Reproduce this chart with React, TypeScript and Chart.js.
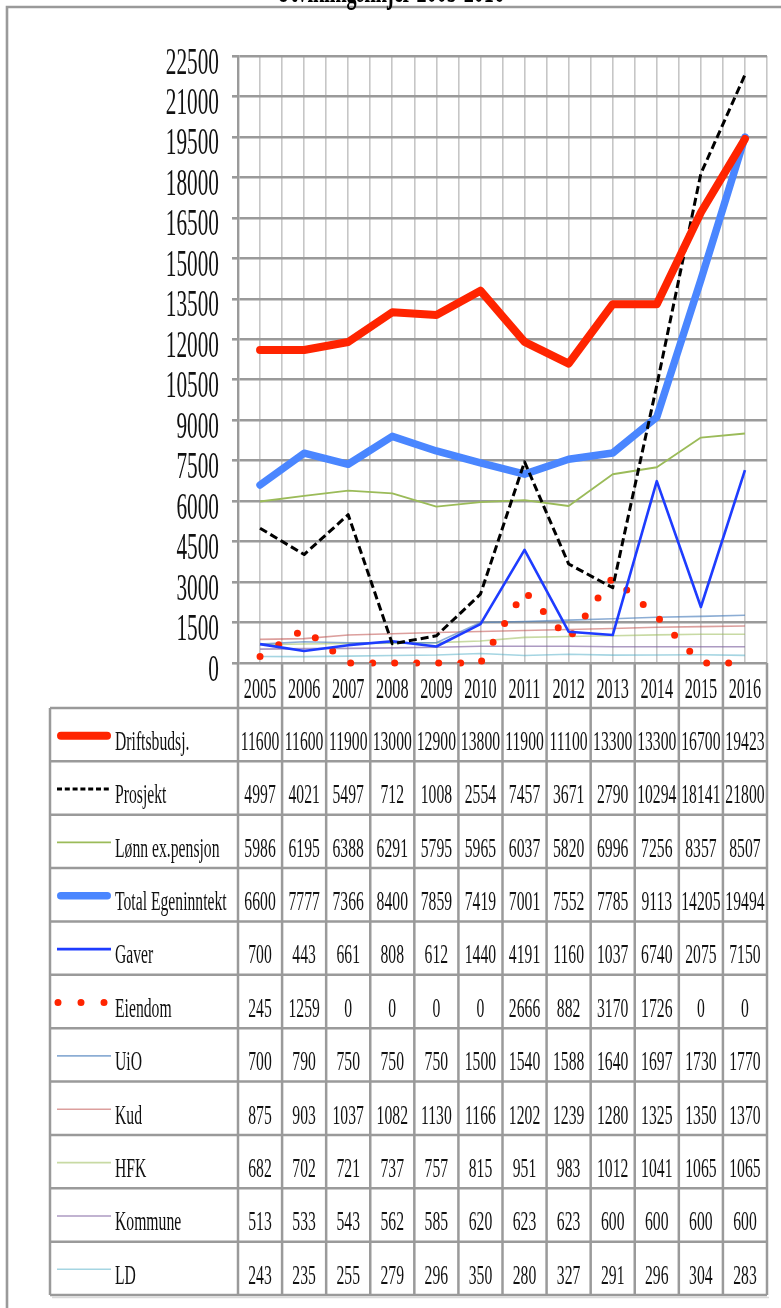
import React, { useEffect, useRef } from "react";
import { Chart, registerables } from "chart.js";

Chart.register(...registerables);

// ---------- data ----------
const chartTitle = "Utviklingslinjer 2005-2016";
const years = ["2005", "2006", "2007", "2008", "2009", "2010", "2011", "2012", "2013", "2014", "2015", "2016"];

const seriesNames = [
  "Driftsbudsj.",
  "Prosjekt",
  "Lønn ex.pensjon",
  "Total Egeninntekt",
  "Gaver",
  "Eiendom",
  "UiO",
  "Kud",
  "HFK",
  "Kommune",
  "LD",
];

const driftsbudsj = [11600, 11600, 11900, 13000, 12900, 13800, 11900, 11100, 13300, 13300, 16700, 19423];
const prosjekt = [4997, 4021, 5497, 712, 1008, 2554, 7457, 3671, 2790, 10294, 18141, 21800];
const lonnExPensjon = [5986, 6195, 6388, 6291, 5795, 5965, 6037, 5820, 6996, 7256, 8357, 8507];
const totalEgeninntekt = [6600, 7777, 7366, 8400, 7859, 7419, 7001, 7552, 7785, 9113, 14205, 19494];
const gaver = [700, 443, 661, 808, 612, 1440, 4191, 1160, 1037, 6740, 2075, 7150];
const eiendom = [245, 1259, 0, 0, 0, 0, 2666, 882, 3170, 1726, 0, 0];
const uio = [700, 790, 750, 750, 750, 1500, 1540, 1588, 1640, 1697, 1730, 1770];
const kud = [875, 903, 1037, 1082, 1130, 1166, 1202, 1239, 1280, 1325, 1350, 1370];
const hfk = [682, 702, 721, 737, 757, 815, 951, 983, 1012, 1041, 1065, 1065];
const kommune = [513, 533, 543, 562, 585, 620, 623, 623, 600, 600, 600, 600];
const ld = [243, 235, 255, 279, 296, 350, 280, 327, 291, 296, 304, 283];

const yMin = 0;
const yMax = 22500;
const yStep = 1500;

const seriesValues = [
  driftsbudsj,
  prosjekt,
  lonnExPensjon,
  totalEgeninntekt,
  gaver,
  eiendom,
  uio,
  kud,
  hfk,
  kommune,
  ld,
];

// ---------- styles ----------
type Style = {
  color: string;
  width: number;
  dash?: number[];
  legendDash?: number[];
  cap?: CanvasLineCap;
};

const seriesStyles: Style[] = [
  { color: "#ff2400", width: 8, cap: "round" },
  { color: "#000000", width: 3, dash: [8, 4], legendDash: [5, 2.8] },
  { color: "#9bbb59", width: 1.8 },
  { color: "#4a86ff", width: 7.5, cap: "round" },
  { color: "#1e3cff", width: 2.6 },
  { color: "#ff2400", width: 7, dash: [0, 22], legendDash: [0, 23], cap: "round" },
  { color: "rgba(79,129,189,0.65)", width: 1.6 },
  { color: "rgba(192,80,77,0.55)", width: 1.6 },
  { color: "rgba(155,187,89,0.55)", width: 1.6 },
  { color: "rgba(128,100,162,0.65)", width: 1.6 },
  { color: "rgba(75,172,198,0.5)", width: 1.6 },
];

const SX = 0.56; // horizontal condensation of all text, as in the reference
const FONT = '"Liberation Serif", "Times New Roman", serif';
const GRID_DARK = "#9a9a9a";
const GRID_LIGHT = "#c6c6c6";

function drawText(
  ctx: CanvasRenderingContext2D,
  text: string,
  x: number,
  y: number,
  font: string,
  align: "left" | "center" | "right",
  color = "#111111"
) {
  ctx.save();
  ctx.font = font;
  ctx.textBaseline = "alphabetic";
  ctx.textAlign = "left";
  const w = ctx.measureText(text).width * SX;
  const left = align === "center" ? x - w / 2 : align === "right" ? x - w : x;
  ctx.translate(left, y);
  ctx.scale(SX, 1);
  ctx.fillStyle = color;
  ctx.fillText(text, 0, 0);
  ctx.restore();
}

const excelPlugin = {
  id: "excelFrameAndTable",
  beforeDraw(chart: any) {
    const ctx: CanvasRenderingContext2D = chart.ctx;
    ctx.save();
    ctx.fillStyle = "#ffffff";
    ctx.fillRect(0, 0, chart.width, chart.height);
    // outer frame
    ctx.strokeStyle = GRID_DARK;
    ctx.lineWidth = 2.6;
    ctx.beginPath();
    ctx.moveTo(7, chart.height + 5);
    ctx.lineTo(7, 7);
    ctx.lineTo(chart.width + 5, 7);
    ctx.stroke();
    ctx.restore();
    drawText(ctx, chartTitle, 390, 2, `bold 36px ${FONT}`, "center", "#000000");
  },
  afterDraw(chart: any) {
    const ctx: CanvasRenderingContext2D = chart.ctx;
    const area = chart.chartArea;
    const xs = chart.scales.x;
    const ys = chart.scales.y;

    // y tick labels
    ys.ticks.forEach((t: any) => {
      const py = ys.getPixelForValue(t.value);
      drawText(ctx, String(t.value), area.left - 19, py + 17.5, `38px ${FONT}`, "right");
    });

    const colW = (area.right - area.left) / years.length;
    const yearTop = area.bottom;
    const tableTop = yearTop + 45;
    const tableBottom = 1295;
    const tableLeft = 50;
    const rowH = (tableBottom - tableTop) / seriesNames.length;

    ctx.save();
    ctx.strokeStyle = GRID_DARK;
    ctx.lineWidth = 2.5;
    ctx.beginPath();
    for (let k = 0; k <= years.length; k++) {
      const px = area.left + k * colW;
      ctx.moveTo(px, yearTop);
      ctx.lineTo(px, tableBottom);
    }
    for (let r = 0; r <= seriesNames.length; r++) {
      const py = tableTop + r * rowH;
      ctx.moveTo(tableLeft, py);
      ctx.lineTo(area.right, py);
    }
    ctx.moveTo(tableLeft, tableTop);
    ctx.lineTo(tableLeft, tableBottom);
    ctx.stroke();
    // faint shadow under the table
    ctx.strokeStyle = "rgba(150,150,150,0.35)";
    ctx.lineWidth = 1.5;
    ctx.beginPath();
    ctx.moveTo(tableLeft + 2, tableBottom + 2.5);
    ctx.lineTo(area.right + 2, tableBottom + 2.5);
    ctx.stroke();
    ctx.restore();

    // year labels
    years.forEach((yr, i) => {
      const cx = xs.getPixelForValue(i);
      drawText(ctx, yr, cx, yearTop + 35, `29px ${FONT}`, "center");
    });

    // rows
    seriesNames.forEach((name, r) => {
      const top = tableTop + r * rowH;
      const midY = top + rowH / 2 + 1;
      const st = seriesStyles[r];
      // legend sample
      ctx.save();
      ctx.strokeStyle = st.color;
      ctx.lineWidth = st.width;
      ctx.lineCap = st.cap || "butt";
      ctx.setLineDash(st.legendDash || st.dash || []);
      const inset = st.cap === "round" ? st.width / 2 : 0;
      const x0 = 57 + inset;
      const x1 = st.legendDash && st.cap === "round" ? 104.5 : 111 - inset;
      ctx.beginPath();
      ctx.moveTo(st.legendDash && st.cap === "round" ? 58 : x0, midY);
      ctx.lineTo(x1, midY);
      ctx.stroke();
      ctx.restore();
      drawText(ctx, name, 115, top + 42, `28px ${FONT}`, "left");
      seriesValues[r].forEach((v, i) => {
        const cx = xs.getPixelForValue(i);
        drawText(ctx, String(v), cx, top + 42, `28px ${FONT}`, "center");
      });
    });
  },
};

export default function App() {
  const canvasRef = useRef<HTMLCanvasElement | null>(null);

  useEffect(() => {
    const canvas = canvasRef.current;
    if (!canvas) return;

    const datasets = seriesNames.map((name, i) => {
      const st = seriesStyles[i];
      return {
        label: name,
        data: seriesValues[i],
        borderColor: st.color,
        backgroundColor: st.color,
        borderWidth: st.width,
        borderDash: st.dash || [],
        borderCapStyle: st.cap || "butt",
        borderJoinStyle: "round",
        pointRadius: 0,
        pointHoverRadius: 0,
        tension: 0,
        fill: false,
        clip: 10,
      };
    });

    const chart = new Chart(canvas, {
      type: "line",
      data: { labels: years, datasets: datasets as any },
      options: {
        responsive: false,
        maintainAspectRatio: false,
        animation: false,
        devicePixelRatio: 1,
        events: [],
        layout: { padding: { left: 232, right: 14, top: 56, bottom: 645 } },
        plugins: {
          legend: { display: false },
          title: { display: false },
          tooltip: { enabled: false },
        },
        scales: {
          x: {
            type: "category",
            offset: true,
            z: -1,
            grid: { display: true, offset: true, color: GRID_LIGHT, lineWidth: 1.6, drawTicks: false },
            border: { display: false },
            ticks: { display: false },
            afterFit: (s: any) => {
              s.height = 0;
            },
          },
          x2: {
            type: "category",
            offset: true,
            z: -1,
            position: "bottom",
            grid: { display: true, offset: false, color: GRID_LIGHT, lineWidth: 1.6, drawTicks: false },
            border: { display: false },
            ticks: { display: false },
            afterFit: (s: any) => {
              s.height = 0;
            },
          },
          y: {
            type: "linear",
            min: yMin,
            max: yMax,
            ticks: { display: false, stepSize: yStep },
            grid: { color: GRID_DARK, lineWidth: 2.6, drawTicks: true, tickLength: 6 },
            border: { display: true, color: GRID_DARK, width: 2.4 },
            afterFit: (s: any) => {
              s.width = 6;
            },
          },
        } as any,
      },
      plugins: [excelPlugin],
    });

    return () => {
      chart.destroy();
    };
  }, []);

  return (
    <div style={{ position: "absolute", left: 0, top: 0, width: 781, height: 1308, overflow: "hidden", background: "#fff" }}>
      <canvas ref={canvasRef} width={781} height={1308} style={{ display: "block" }} />
    </div>
  );
}
